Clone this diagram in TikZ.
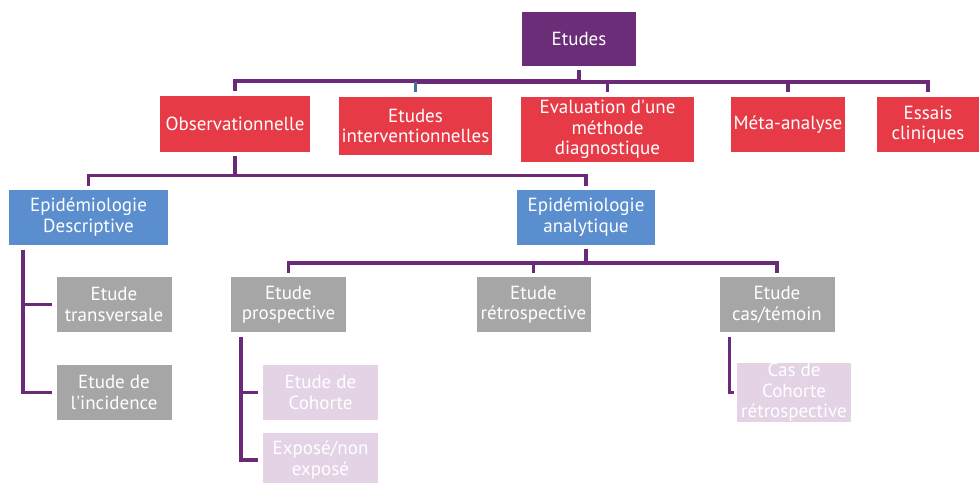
\documentclass[tikz,border=0pt]{standalone}
\usepackage{fontspec}
\setmainfont{PT Sans}
\usetikzlibrary{calc}
\definecolor{cpurple}{HTML}{6B2D77}
\definecolor{cred}{HTML}{E63A46}
\definecolor{cblue}{HTML}{5B8ECE}
\definecolor{cgray}{HTML}{A6A6A6}
\definecolor{cpink}{HTML}{E4D2E5}
\definecolor{cline}{HTML}{6A2A78}
\definecolor{cbluel}{HTML}{41719C}
\tikzset{
  box/.style={inner sep=0pt, align=center, text=white, font=\fontsize{19}{20.5}\selectfont},
  rootbox/.style={box, fill=cpurple},
  redbox/.style={box, fill=cred},
  bluebox/.style={box, fill=cblue},
  graybox/.style={box, fill=cgray},
  pinkbox/.style={box, fill=cpink},
  conn/.style={draw=cline, line width=3.5pt},
}
\begin{document}
\begin{tikzpicture}[x=1pt,y=-1pt]
\useasboundingbox (0,0) rectangle (979,482);
\clip (0,0) rectangle (979,482);
% nodes
\node[rootbox, minimum width=114pt, minimum height=54pt] (root) at (579,39) {Etudes};
\node[redbox, minimum width=150pt, minimum height=56pt] (obs) at (235,124) {Observationnelle};
\node[redbox, minimum width=153pt, minimum height=58pt] (interv) at (415.5,126) {Etudes\\interventionnelles};
\node[redbox, minimum width=173pt, minimum height=65pt] (eval) at (607.5,129.5) {Evaluation d\textquotesingle une\\méthode\\diagnostique};
\node[redbox, minimum width=114pt, minimum height=55pt] (meta) at (788,124.5) {Méta-analyse};
\node[redbox, minimum width=102pt, minimum height=55pt] (essais) at (928,124.5) {Essais\\cliniques};
\node[bluebox, minimum width=159pt, minimum height=55pt] (desc) at (88.5,217) {Epidémiologie\\Descriptive};
\node[bluebox, minimum width=138pt, minimum height=55pt] (ana) at (586,217) {Epidémiologie\\analytique};
\node[graybox, minimum width=115pt, minimum height=55pt] (trans) at (114,304.5) {Etude\\transversale};
\node[graybox, minimum width=115pt, minimum height=55pt] (inc) at (114,392.5) {Etude de\\l\textquotesingle incidence};
\node[graybox, minimum width=115pt, minimum height=55pt] (prosp) at (288.5,304.5) {Etude\\prospective};
\node[graybox, minimum width=114pt, minimum height=55pt] (retro) at (533.5,304.5) {Etude\\rétrospective};
\node[graybox, minimum width=115pt, minimum height=55pt] (cas) at (777,304.5) {Etude\\cas/témoin};
\node[pinkbox, minimum width=115pt, minimum height=55pt] (coh) at (320.5,392.5) {Etude de\\Cohorte};
\node[pinkbox, minimum width=115pt, minimum height=55pt] (expo) at (320.5,460) {Exposé/non\\exposé};
\node[pinkbox, minimum width=114pt, minimum height=55pt] (cascoh) at (794,392.5) {Cas de\\Cohorte\\rétrospective};
% top level connectors
\foreach \c in {obs,eval,meta,essais}{
  \draw[conn] ([yshift=-4pt]root.south) |- ($(\c.north)+(0,-15)$) -- ([yshift=5pt]\c.north);
}
\draw[conn] ([yshift=-4pt]root.south) |- ($(interv.north)+(0,-15)$);
\draw[draw=cbluel, line width=3.5pt] ($(interv.north)+(0,-15)$) -- ([yshift=5pt]interv.north);
% observationnelle
\foreach \c in {desc,ana}{
  \draw[conn] ([yshift=-4pt]obs.south) |- ($(\c.north)+(0,-14)$) -- ([yshift=3pt]\c.north);
}
% analytique
\foreach \c in {prosp,retro,cas}{
  \draw[conn] ([yshift=-4pt]ana.south) |- ($(\c.north)+(0,-14)$) -- ([yshift=4pt]\c.north);
}
% descriptive
\foreach \c in {trans,inc}{
  \draw[conn] ([xshift=14pt,yshift=-5pt]desc.south west) |- ([xshift=-4pt]\c.west);
}
% prospective
\foreach \c in {coh,expo}{
  \draw[conn] ([xshift=10pt,yshift=-5pt]prosp.south west) |- ([xshift=-5pt]\c.west);
}
% cas/temoin
\draw[conn] ([xshift=10pt,yshift=-5pt]cas.south west) |- ([xshift=-3pt]cascoh.west);
\end{tikzpicture}
\end{document}
